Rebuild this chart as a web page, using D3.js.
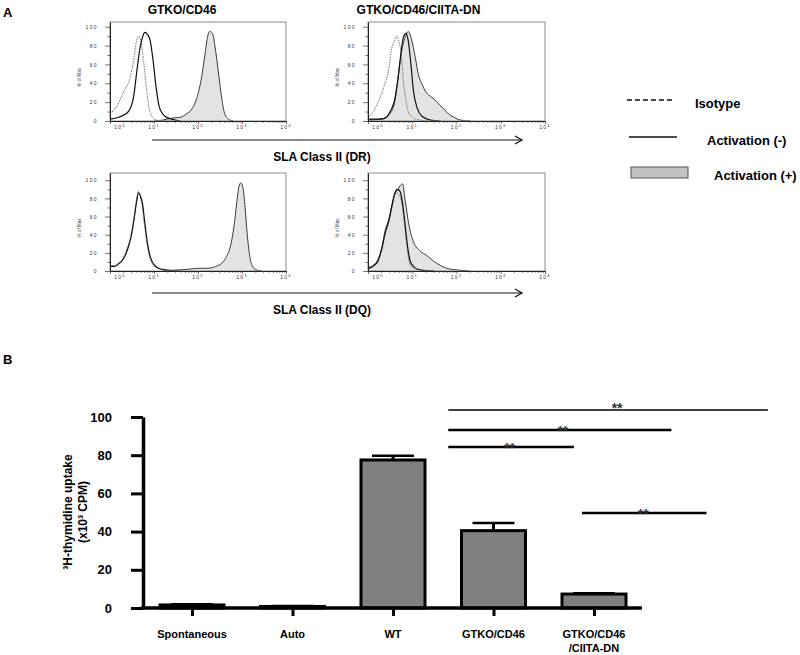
<!DOCTYPE html>
<html>
<head>
<meta charset="utf-8">
<script src="https://cdn.jsdelivr.net/npm/d3@7"></script>
<style>
body { margin: 0; background: #fff; }
svg { font-family: "Liberation Sans", Arial, sans-serif; }
</style>
</head>
<body>
<div class="figure"></div>
<script>
var width = 800, height = 655;

// PANEL A DATA
var panelTitles = ["GTKO/CD46", "GTKO/CD46/CIITA-DN"];
var markerLabels = ["SLA Class II (DR)", "SLA Class II (DQ)"];
var legendLabels = ["Isotype", "Activation (-)", "Activation (+)"];
var histYTicks = [0, 20, 40, 60, 80, 100];
var histXTicks = [0, 1, 2, 3, 4]; // exponents of 10

// histogram curves: [log10 intensity, % of max]
var drCd46Iso = [[0,8],[0.15,15],[0.3,30],[0.45,45],[0.53,62],[0.6,84],[0.65,90],[0.7,85],[0.76,65],[0.82,38],[0.88,16],[0.95,5],[1.05,1],[1.3,0]];
var drCd46Neg = [[0,2],[0.2,4],[0.4,9],[0.53,24],[0.61,53],[0.67,74],[0.74,89],[0.79,94],[0.85,92],[0.91,86],[0.98,64],[1.05,35],[1.12,15],[1.25,5],[1.4,2],[1.6,0]];
var drCd46Pos = [[1.0,0],[1.2,1],[1.4,3],[1.6,4],[1.75,8],[1.85,12],[1.97,24],[2.08,46],[2.16,71],[2.22,90],[2.27,95],[2.33,93],[2.38,81],[2.46,53],[2.54,24],[2.61,7],[2.69,2],[2.8,0]];

var drCiitaIso = [[0,3],[0.12,10],[0.2,17],[0.35,35],[0.46,53],[0.54,78],[0.6,85],[0.65,90],[0.7,84],[0.76,67],[0.8,42],[0.86,21],[0.91,10],[1.03,3],[1.18,1],[1.4,0]];
var drCiitaNeg = [[0,2],[0.25,2],[0.39,3],[0.5,10],[0.61,24],[0.68,46],[0.75,74],[0.8,89],[0.86,93],[0.91,85],[0.97,60],[1.03,31],[1.11,14],[1.22,5],[1.41,1],[1.64,0]];
var drCiitaPos = [[0,1],[0.31,2],[0.5,8],[0.61,22],[0.68,46],[0.76,74],[0.84,89],[0.91,95],[0.98,87],[1.07,67],[1.14,49],[1.22,39],[1.32,30],[1.42,26],[1.52,22],[1.62,17],[1.71,13],[1.83,7],[1.94,4],[2.09,1],[2.32,0]];

var dqCd46Iso = [[0,6],[0.1,6],[0.2,9],[0.3,14],[0.4,26],[0.48,40],[0.55,60],[0.6,78],[0.64,88],[0.68,84],[0.73,72],[0.78,52],[0.84,30],[0.9,15],[0.98,7],[1.1,3],[1.3,1],[1.5,0]];
var dqCd46Neg = [[0,5],[0.1,5],[0.2,8],[0.3,13],[0.4,24],[0.48,38],[0.55,58],[0.6,75],[0.65,86],[0.69,83],[0.74,74],[0.79,54],[0.85,31],[0.92,15],[1.0,7],[1.1,3],[1.3,1],[1.6,0]];
var dqCd46Pos = [[1.2,0],[1.5,1],[1.8,2],[2.0,3],[2.2,3],[2.4,5],[2.55,9],[2.65,16],[2.75,30],[2.82,50],[2.88,75],[2.93,93],[2.97,97],[3.02,92],[3.07,70],[3.12,40],[3.17,18],[3.23,6],[3.3,2],[3.45,0]];

var dqCiitaIso = [[0,4],[0.2,11],[0.31,26],[0.39,44],[0.47,55],[0.54,70],[0.6,83],[0.65,86],[0.7,84],[0.75,78],[0.8,62],[0.86,35],[0.91,15],[0.97,5],[1.05,2],[1.2,1],[1.5,0]];
var dqCiitaNeg = [[0,3],[0.2,9],[0.31,24],[0.39,42],[0.47,55],[0.54,72],[0.6,85],[0.66,90],[0.72,88],[0.78,75],[0.84,50],[0.9,25],[0.96,10],[1.05,4],[1.2,1],[1.5,0]];
var dqCiitaPos = [[0,2],[0.2,10],[0.31,25],[0.39,45],[0.47,57],[0.54,72],[0.61,85],[0.68,90],[0.74,95],[0.78,96],[0.84,78],[0.92,52],[1.03,32],[1.18,22],[1.33,17],[1.48,11],[1.64,6],[1.86,2],[2.05,1],[2.3,0]];

// PANEL B DATA
var categories = ["Spontaneous", "Auto", "WT", "GTKO/CD46", "GTKO/CD46\n/CIITA-DN"];
var means = [1.6, 0.8, 77.5, 40.5, 7.3];
var errors = [0.3, 0.2, 2.2, 4.0, 0.4];
var barTicks = [0, 20, 40, 60, 80, 100];
// significance bars: from / to / star position in category index units, height in CPM units
var sigFrom = [2.55, 2.55, 2.55, 3.88];
var sigTo = [5.73, 4.77, 3.8, 5.12];
var sigStar = [4.23, 3.69, 3.16, 4.49];
var sigHeight = [103.7, 93.2, 84.3, 49.7];


var svg = d3.select('.figure')
  .append('svg')
  .attr('width', width)
  .attr('height', height);

svg.append('text').attr('x', 3).attr('y', 17)
  .attr('font-size', 13).attr('font-weight', 'bold').text('A');

// HISTOGRAMS
var panels = [
  {left: 110, top: 22, w: 176, h: 99, ymax: 105, iso: drCd46Iso, neg: drCd46Neg, pos: drCd46Pos},
  {left: 368, top: 22, w: 177, h: 99, ymax: 105, iso: drCiitaIso, neg: drCiitaNeg, pos: drCiitaPos},
  {left: 110, top: 173, w: 176, h: 98, ymax: 108, iso: dqCd46Iso, neg: dqCd46Neg, pos: dqCd46Pos},
  {left: 368, top: 173, w: 177, h: 98, ymax: 108, iso: dqCiitaIso, neg: dqCiitaNeg, pos: dqCiitaPos}
];

var minorX = [];
for (var dec = 0; dec < 4; dec++) {
  for (var k = 2; k < 10; k++) minorX.push(dec + Math.log10(k));
}
var minorY = [10, 30, 50, 70, 90];

panels.forEach(function(p, pi) {
  var g = svg.append('g').attr('transform', 'translate(' + p.left + ',' + p.top + ')');
  var x = d3.scaleLinear().domain([0, 4]).range([0, p.w]);
  var y = d3.scaleLinear().domain([0, p.ymax]).range([p.h, 0]);

  var area = d3.area()
    .x(function(d) { return x(d[0]); })
    .y0(p.h)
    .y1(function(d) { return y(d[1]); })
    .curve(d3.curveMonotoneX);
  var line = d3.line()
    .x(function(d) { return x(d[0]); })
    .y(function(d) { return y(d[1]); })
    .curve(d3.curveMonotoneX);

  g.append('path').datum(p.pos).attr('d', area).attr('fill', '#e3e3e3');
  g.append('path').datum(p.pos).attr('d', line)
    .attr('fill', 'none').attr('stroke', '#3c3c3c').attr('stroke-width', 1);
  g.append('path').datum(p.iso).attr('d', line)
    .attr('fill', 'none').attr('stroke', '#777').attr('stroke-width', 1)
    .attr('stroke-dasharray', '1.5,1');
  g.append('path').datum(p.neg).attr('d', line)
    .attr('fill', 'none').attr('stroke', '#111').attr('stroke-width', 1.2);

  g.append('rect').attr('width', p.w).attr('height', p.h)
    .attr('fill', 'none').attr('stroke', '#8a8a8a').attr('stroke-width', 1);

  // y axis
  var ya = g.append('g').call(d3.axisLeft(y).tickValues(histYTicks).tickSize(5).tickSizeOuter(0).tickPadding(7));
  g.append('g').call(d3.axisLeft(y).tickValues(minorY).tickSize(2.5).tickFormat(''))
    .select('.domain').remove();
  // x axis
  var xa = g.append('g').attr('transform', 'translate(0,' + p.h + ')')
    .call(d3.axisBottom(x).tickValues(histXTicks).tickSize(3).tickSizeOuter(0).tickFormat(''));
  g.append('g').attr('transform', 'translate(0,' + p.h + ')')
    .call(d3.axisBottom(x).tickValues(minorX).tickSize(1.8).tickFormat(''))
    .select('.domain').remove();

  g.selectAll('.domain').attr('stroke', '#222');
  g.selectAll('.tick line').attr('stroke', '#333').attr('stroke-width', 0.7);
  ya.selectAll('text').attr('font-size', 5).attr('letter-spacing', 1.4).attr('fill', '#333')
    .attr('font-family', '"Liberation Sans", Arial, sans-serif');

  histXTicks.forEach(function(e) {
    var t = g.append('text')
      .attr('x', x(e) + (e === 0 ? 10 : 0))
      .attr('y', p.h + 8)
      .attr('text-anchor', 'middle')
      .attr('font-size', 5).attr('letter-spacing', 1.2).attr('fill', '#333');
    t.append('tspan').text('10');
    t.append('tspan').attr('dy', -2.5).attr('font-size', 4).text(e);
  });

  g.append('text')
    .attr('transform', 'translate(-29,' + (p.h / 2 + 6) + ') rotate(-90)')
    .attr('text-anchor', 'middle').attr('font-size', 4.5).attr('fill', '#333')
    .text('% of Max');
});

panelTitles.forEach(function(t, i) {
  var p = panels[i];
  svg.append('text').attr('x', p.left + p.w / 2 - (i === 0 ? 16 : 38)).attr('y', 14)
    .attr('text-anchor', 'middle').attr('font-size', 12).attr('font-weight', 'bold').text(t);
});

// ARROWS
var arrowY = [140, 293];
markerLabels.forEach(function(t, i) {
  var ay = arrowY[i];
  svg.append('line').attr('x1', 152).attr('x2', 522).attr('y1', ay).attr('y2', ay)
    .attr('stroke', '#111').attr('stroke-width', 1.2);
  svg.append('path').attr('d', 'M515,' + (ay - 4) + 'L522,' + ay + 'L515,' + (ay + 4))
    .attr('fill', 'none').attr('stroke', '#111').attr('stroke-width', 1.2);
  svg.append('text').attr('x', 322).attr('y', ay + 21)
    .attr('text-anchor', 'middle').attr('font-size', 12).attr('font-weight', 'bold').text(t);
});

// LEGEND
var legend = svg.append('g');
legend.append('line').attr('x1', 627).attr('x2', 672).attr('y1', 100).attr('y2', 100)
  .attr('stroke', '#111').attr('stroke-width', 1.5).attr('stroke-dasharray', '5,3');
legend.append('line').attr('x1', 629).attr('x2', 677).attr('y1', 137).attr('y2', 137)
  .attr('stroke', '#111').attr('stroke-width', 1.5);
legend.append('rect').attr('x', 631).attr('y', 167).attr('width', 57).attr('height', 11)
  .attr('fill', '#c2c2c2').attr('stroke', '#555').attr('stroke-width', 1);
var legendX = [695, 707, 714], legendY = [108, 145, 180];
legendLabels.forEach(function(t, i) {
  legend.append('text').attr('x', legendX[i]).attr('y', legendY[i])
    .attr('font-size', 13).attr('font-weight', 'bold').text(t);
});

// BAR CHART
svg.append('text').attr('x', 3).attr('y', 364)
  .attr('font-size', 13).attr('font-weight', 'bold').text('B');

var xBar = d3.scalePoint().domain(categories).range([192, 594]);
var xIdx = d3.scaleLinear().domain([0, categories.length - 1]).range(xBar.range());
var yBar = d3.scaleLinear().domain([0, 100]).range([608, 417]);
var barW = 64;
var gB = svg.append('g');

gB.selectAll('rect.bar')
  .data(means)
  .enter()
  .append('rect')
  .attr('class', 'bar')
  .attr('x', function(d, i) { return xBar(categories[i]) - barW / 2; })
  .attr('y', function(d) { return yBar(d); })
  .attr('width', barW)
  .attr('height', function(d) { return yBar(0) - yBar(d); })
  .attr('fill', '#808080')
  .attr('stroke', '#000')
  .attr('stroke-width', 3);

means.forEach(function(m, i) {
  var cx = xBar(categories[i]);
  gB.append('line').attr('x1', cx).attr('x2', cx)
    .attr('y1', yBar(m)).attr('y2', yBar(m + errors[i]))
    .attr('stroke', '#000').attr('stroke-width', 3);
  gB.append('line').attr('x1', cx - 21).attr('x2', cx + 21)
    .attr('y1', yBar(m + errors[i])).attr('y2', yBar(m + errors[i]))
    .attr('stroke', '#000').attr('stroke-width', 2.5);
});

var yAx = gB.append('g').attr('transform', 'translate(143,0)')
  .call(d3.axisLeft(yBar).tickValues(barTicks).tickSize(12).tickSizeOuter(0).tickPadding(19));
yAx.select('.domain').attr('stroke', '#000').attr('stroke-width', 3.5);
yAx.selectAll('.tick line').attr('stroke', '#000').attr('stroke-width', 3);
yAx.selectAll('text').attr('font-size', 13).attr('font-weight', 'bold').attr('fill', '#000')
  .attr('font-family', '"Liberation Sans", Arial, sans-serif');

gB.append('line').attr('x1', 141).attr('x2', xBar(categories[categories.length - 1]) + barW * 0.75)
  .attr('y1', yBar(0)).attr('y2', yBar(0))
  .attr('stroke', '#000').attr('stroke-width', 3.5);

var xAx = gB.append('g').attr('transform', 'translate(0,' + yBar(0) + ')')
  .call(d3.axisBottom(xBar).tickSize(8).tickSizeOuter(0).tickFormat(''));
xAx.select('.domain').remove();
xAx.selectAll('.tick line').attr('stroke', '#000').attr('stroke-width', 3);

categories.forEach(function(c) {
  var t = gB.append('text').attr('x', xBar(c)).attr('y', yBar(0) + 30)
    .attr('text-anchor', 'middle').attr('font-size', 11).attr('font-weight', 'bold');
  c.split('\n').forEach(function(part, j) {
    t.append('tspan').attr('x', xBar(c)).attr('dy', j === 0 ? 0 : 14).text(part);
  });
});

// y title
var yTitle = ['\u00B3H-thymidine uptake', '(x10\u00B3 CPM)'];
var yTitleX = [72, 87];
yTitle.forEach(function(t, i) {
  gB.append('text')
    .attr('transform', 'translate(' + yTitleX[i] + ',' + 512 + ') rotate(-90)')
    .attr('text-anchor', 'middle').attr('font-size', 12).attr('font-weight', 'bold').text(t);
});

// significance
sigHeight.forEach(function(h, i) {
  gB.append('line')
    .attr('x1', xIdx(sigFrom[i])).attr('x2', xIdx(sigTo[i]))
    .attr('y1', yBar(h)).attr('y2', yBar(h))
    .attr('stroke', '#000').attr('stroke-width', i === 0 ? 1.5 : 2.5);
  gB.append('text')
    .attr('x', xIdx(sigStar[i]))
    .attr('y', yBar(h) + (i === 0 ? 3 : 6))
    .attr('text-anchor', 'middle').attr('font-size', 14).attr('font-weight', 'bold')
    .attr('fill', '#333').text('**');
});
</script>
</body>
</html>
